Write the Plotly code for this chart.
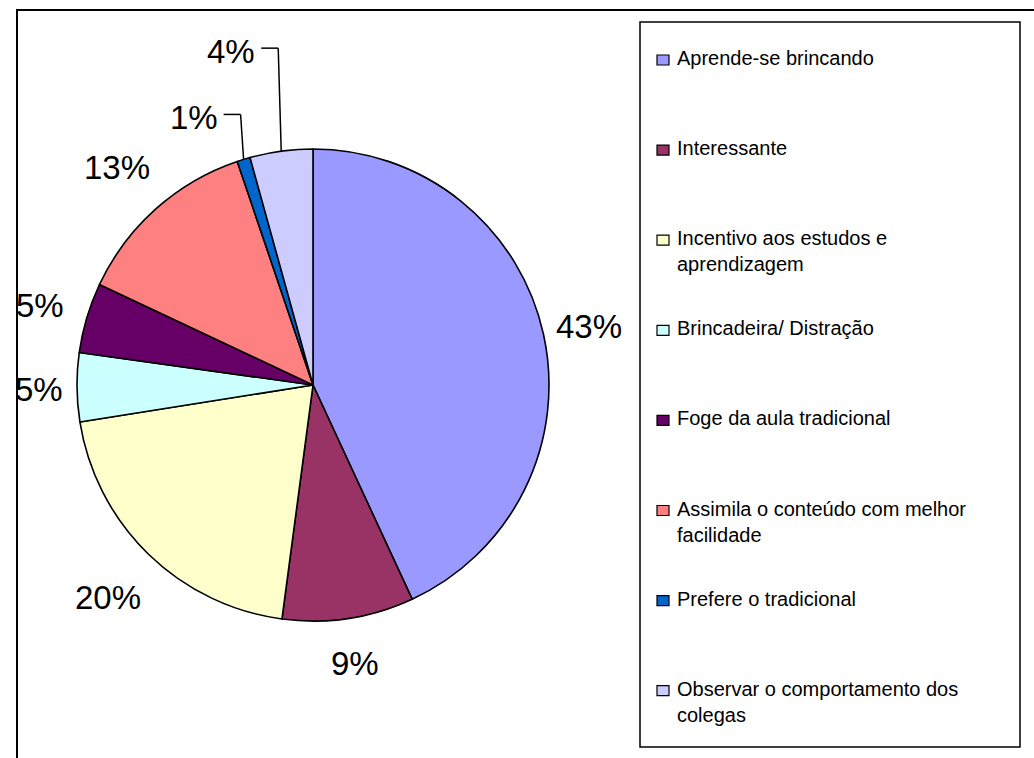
import math
import textwrap
import plotly.graph_objects as go

# ---------------- data ----------------
categories = [
    "Aprende-se brincando",
    "Interessante",
    "Incentivo aos estudos e aprendizagem",
    "Brincadeira/ Distração",
    "Foge da aula tradicional",
    "Assimila o conteúdo com melhor facilidade",
    "Prefere o tradicional",
    "Observar o comportamento dos colegas",
]
values = [43.1, 9.0, 20.4, 4.7, 4.8, 12.8, 0.9, 4.3]
pct_labels = ["43%", "9%", "20%", "5%", "5%", "13%", "1%", "4%"]
colors = ["#9999FF", "#993366", "#FFFFCC", "#CCFFFF", "#660066", "#FF8080", "#0066CC", "#CCCCFF"]

# ---------------- layout / style ----------------
W, H = 1034, 758
CX, CY, R = 313, 385, 236
FONT = "Liberation Sans, Arial, sans-serif"
LABEL_FS = 33
LEGEND_FS = 20
# labels of tiny slices are lifted up and joined with a leader line (pixels)
leader_rise = {"Prefere o tradicional": 45, "Observar o comportamento dos colegas": 103}


def px(x):
    return x / W


def py(y):
    return 1 - y / H


fig = go.Figure(
    go.Pie(
        labels=categories,
        values=values,
        sort=False,
        direction="clockwise",
        rotation=0,
        marker=dict(colors=colors, line=dict(color="black", width=1.6)),
        textinfo="none",
        hoverinfo="label+percent",
        domain=dict(x=[px(CX - R), px(CX + R)], y=[py(CY + R), py(CY - R)]),
        showlegend=False,
    )
)

annotations = []
shapes = []

# outer chart frame (only top and left edges are visible in the picture)
shapes.append(dict(type="rect", xref="paper", yref="paper",
                   x0=px(17), y0=py(10), x1=px(1045), y1=py(775),
                   line=dict(color="black", width=2), fillcolor="rgba(0,0,0,0)", layer="below"))

# percentage labels
total = sum(values)
cum = 0.0
for cat, v, lab in zip(categories, values, pct_labels):
    mid = (cum + v / 2) / total * 2 * math.pi
    cum += v
    s, c = math.sin(mid), math.cos(mid)
    ex, ey = CX + R * s, CY - R * c
    if cat in leader_rise:
        kx, ky = ex - 3, ey - leader_rise[cat]
        tx = kx - 17
        shapes.append(dict(type="line", xref="paper", yref="paper",
                           x0=px(ex), y0=py(ey), x1=px(kx), y1=py(ky),
                           line=dict(color="black", width=1.5)))
        shapes.append(dict(type="line", xref="paper", yref="paper",
                           x0=px(kx), y0=py(ky), x1=px(tx), y1=py(ky),
                           line=dict(color="black", width=1.5)))
        annotations.append(dict(x=px(tx - 4), y=py(ky + 3), xref="paper", yref="paper",
                                text=lab, showarrow=False, xanchor="right", yanchor="middle",
                                font=dict(family=FONT, size=LABEL_FS, color="black")))
    else:
        d = R * (1.16 + 0.17 * abs(s * c))
        annotations.append(dict(x=px(CX + d * s), y=py(CY - d * c + 2), xref="paper", yref="paper",
                                text=lab, showarrow=False, xanchor="center", yanchor="middle",
                                font=dict(family=FONT, size=LABEL_FS, color="black")))

# legend box
LX0, LY0, LX1, LY1 = 640, 22, 1020, 747
shapes.append(dict(type="rect", xref="paper", yref="paper",
                   x0=px(LX0), y0=py(LY0), x1=px(LX1), y1=py(LY1),
                   line=dict(color="black", width=1.5), fillcolor="white", layer="below"))
FIRST, STEP = 59, 90.1
for i, (cat, col) in enumerate(zip(categories, colors)):
    yc = FIRST + STEP * i
    shapes.append(dict(type="rect", xref="paper", yref="paper",
                       x0=px(657), x1=px(669), y0=py(yc - 4), y1=py(yc + 6),
                       line=dict(color="black", width=1.2), fillcolor=col))
    annotations.append(dict(x=px(675), y=py(yc - 14), xref="paper", yref="paper",
                            text="<br>".join(textwrap.wrap(cat, 30)), showarrow=False,
                            xanchor="left", yanchor="top", align="left",
                            font=dict(family=FONT, size=LEGEND_FS, color="black")))

fig.update_layout(
    width=W,
    height=H,
    margin=dict(l=0, r=0, t=0, b=0),
    paper_bgcolor="white",
    plot_bgcolor="white",
    font=dict(family=FONT, color="black"),
    shapes=shapes,
    annotations=annotations,
    showlegend=False,
)

fig.write_html("out.html")
